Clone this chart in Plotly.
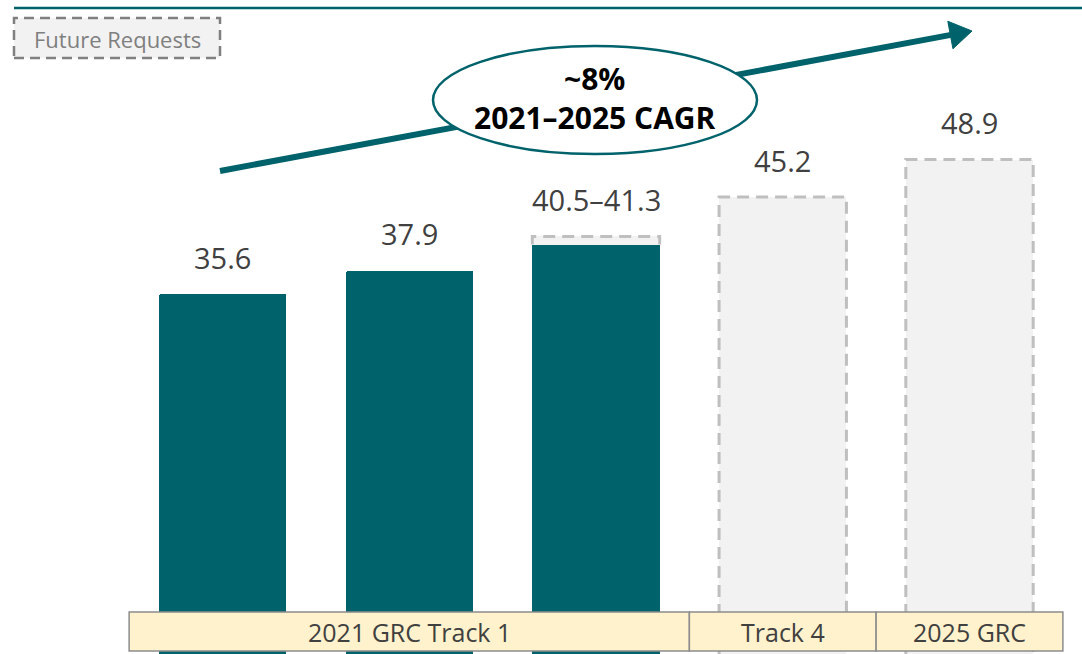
import plotly.graph_objects as go

# ---------------- data ----------------
bar_index = [0, 1, 2, 3, 4]
actual_values = [35.6, 37.9, 40.5, None, None]        # solid teal bars
future_values = [None, None, 41.3, 45.2, 48.9]        # dashed "future request" bars
value_labels = ["35.6", "37.9", "40.5–41.3", "45.2", "48.9"]

group_labels = ["2021 GRC Track 1", "Track 4", "2025 GRC"]
group_first = [0, 3, 4]
group_last = [2, 3, 4]

cagr_lines = ["~8%", "2021–2025 CAGR"]
legend_label = "Future Requests"

# ---------------- style ----------------
TEAL = "#00626a"
FUT_FILL = "#f2f2f2"
FUT_LINE = "#bfbfbf"
TXT = "#404040"
FONT = "Open Sans"
W, H = 1082, 654
BAR_W = 0.682


def px(x):
    return x / W


def py(y):
    return 1 - y / H


fig = go.Figure()

# future bars (fill only) – stacked on top of the actual part where it exists
fut_base = [a if (a is not None and f is not None) else 0 for a, f in zip(actual_values, future_values)]
fut_height = [(f - b) if f is not None else None for f, b in zip(future_values, fut_base)]
fig.add_trace(go.Bar(x=bar_index, y=fut_height, base=fut_base, width=BAR_W,
                     marker=dict(color=FUT_FILL, line=dict(width=0)),
                     hoverinfo="skip", showlegend=False))
fig.add_trace(go.Bar(x=bar_index, y=actual_values, width=BAR_W,
                     marker=dict(color=TEAL, line=dict(width=0), cornerradius=2),
                     hoverinfo="skip", showlegend=False))

shapes = []
# dashed outlines of future bars (open at the bottom)
for i, (f, b) in enumerate(zip(future_values, fut_base)):
    if f is None:
        continue
    x0, x1 = i - BAR_W / 2, i + BAR_W / 2
    shapes.append(dict(type="path", xref="x", yref="y",
                       path=f"M {x0},{b} L {x0},{f} L {x1},{f} L {x1},{b}",
                       line=dict(color=FUT_LINE, width=3, dash="12px,7px"), layer="above"))

annotations = []
# value labels
for i, lab in enumerate(value_labels):
    top = max(v for v in (actual_values[i], future_values[i]) if v is not None)
    annotations.append(dict(x=bar_index[i], y=top, xref="x", yref="y", text=lab,
                            showarrow=False, xanchor="center", yanchor="middle", yshift=37,
                            font=dict(family=FONT, size=29, color=TXT)))

# category bands
for lab, a, b in zip(group_labels, group_first, group_last):
    shapes.append(dict(type="rect", xref="x", yref="paper", x0=a - 0.5, x1=b + 0.5,
                       y0=py(651), y1=py(612), fillcolor="#fff2cc",
                       line=dict(color="#8c8c8c", width=1.5), layer="above"))
    annotations.append(dict(x=(a + b) / 2, y=py(632), xref="x", yref="paper", text=lab,
                            showarrow=False, xanchor="center", yanchor="middle",
                            font=dict(family=FONT, size=25, color=TXT)))

# top rule
shapes.append(dict(type="line", xref="paper", yref="paper", x0=px(14), x1=1.0,
                   y0=py(8), y1=py(8), line=dict(color=TEAL, width=2.5)))

# legend box
shapes.append(dict(type="rect", xref="paper", yref="paper", x0=px(14), x1=px(220),
                   y0=py(58), y1=py(18), fillcolor=FUT_FILL,
                   line=dict(color="#7f7f7f", width=2.5, dash="10px,6px")))
annotations.append(dict(x=px(117), y=py(39), xref="paper", yref="paper", text=legend_label,
                        showarrow=False, xanchor="center", yanchor="middle",
                        font=dict(family=FONT, size=22, color="#7f7f7f")))

# CAGR arrow (shaft + head), then ellipse on top
tail = (220, 171)
tip = (972, 31)
dx, dy = tip[0] - tail[0], tip[1] - tail[1]
L = (dx ** 2 + dy ** 2) ** 0.5
ux, uy = dx / L, dy / L
head_len, head_half = 22, 14
bx, by = tip[0] - head_len * ux, tip[1] - head_len * uy
shapes.append(dict(type="line", xref="paper", yref="paper",
                   x0=px(tail[0]), y0=py(tail[1]), x1=px(bx + 2 * ux), y1=py(by + 2 * uy),
                   line=dict(color=TEAL, width=6)))
p1 = (bx - head_half * uy, by + head_half * ux)
p2 = (bx + head_half * uy, by - head_half * ux)
shapes.append(dict(type="path", xref="paper", yref="paper",
                   path=f"M {px(tip[0])},{py(tip[1])} L {px(p1[0])},{py(p1[1])} L {px(p2[0])},{py(p2[1])} Z",
                   fillcolor=TEAL, line=dict(color=TEAL, width=1)))
shapes.append(dict(type="circle", xref="paper", yref="paper",
                   x0=px(433), x1=px(757), y0=py(154), y1=py(46),
                   fillcolor="white", line=dict(color=TEAL, width=2.5)))
annotations.append(dict(x=px(595), y=py(98), xref="paper", yref="paper",
                        text="<b>" + "<br>".join(cagr_lines) + "</b>",
                        showarrow=False, xanchor="center", yanchor="middle", align="center",
                        font=dict(family=FONT, size=30, color="black")))

fig.update_layout(
    width=W, height=H,
    margin=dict(l=0, r=0, t=0, b=0),
    paper_bgcolor="white", plot_bgcolor="white",
    barmode="overlay", bargap=0,
    xaxis=dict(range=[-222.5 / 186.75, (W - 222.5) / 186.75], visible=False, fixedrange=True),
    yaxis=dict(range=[0, H / 10.11], visible=False, fixedrange=True),
    shapes=shapes, annotations=annotations,
    showlegend=False,
)

fig.write_html("out.html", config={"displayModeBar": False},
               post_script="document.body.style.margin='0';document.body.style.padding='0';")
